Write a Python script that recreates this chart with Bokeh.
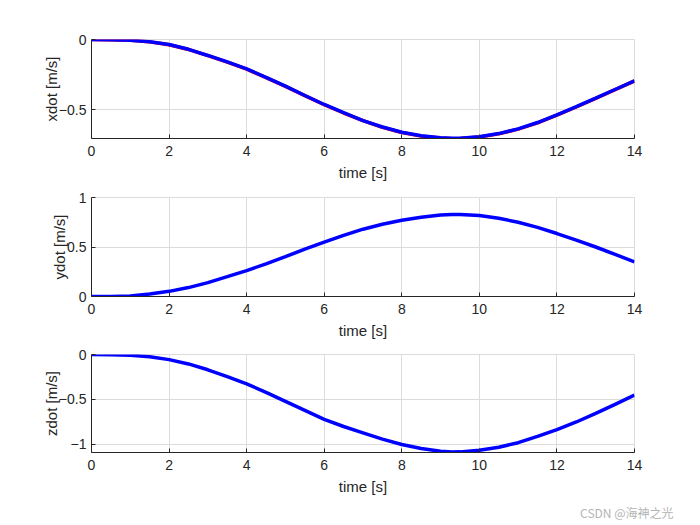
from bokeh.plotting import figure
from bokeh.layouts import column
from bokeh.models import Range1d, Title, FixedTicker
from bokeh.embed import file_html
from bokeh.resources import INLINE

# ---- data ----
t = [0, 0.5, 1, 1.5, 2, 2.5, 3, 3.5, 4, 4.5, 5, 5.5, 6, 6.5, 7, 7.5, 8, 8.5,
     9, 9.3, 9.5, 10, 10.5, 11, 11.5, 12, 12.5, 13, 13.5, 14]

xdot_ref = [0, -0.001, -0.005, -0.017, -0.037, -0.071, -0.115, -0.161, -0.212, -0.272,
            -0.335, -0.401, -0.466, -0.525, -0.580, -0.627, -0.664, -0.690, -0.704,
            -0.708, -0.707, -0.697, -0.674, -0.640, -0.595, -0.540, -0.482, -0.421,
            -0.358, -0.296]
xdot = [0, -0.001, -0.005, -0.016, -0.036, -0.070, -0.114, -0.160, -0.210, -0.270,
        -0.333, -0.400, -0.464, -0.523, -0.579, -0.625, -0.662, -0.688, -0.702,
        -0.706, -0.705, -0.695, -0.672, -0.638, -0.593, -0.538, -0.480, -0.419,
        -0.357, -0.295]
ydot = [0, 0.001, 0.006, 0.025, 0.052, 0.090, 0.140, 0.200, 0.262, 0.330, 0.402,
        0.478, 0.550, 0.618, 0.680, 0.730, 0.770, 0.800, 0.823, 0.829, 0.829, 0.818,
        0.790, 0.750, 0.698, 0.636, 0.570, 0.500, 0.425, 0.350]
zdot = [0, -0.002, -0.008, -0.025, -0.057, -0.105, -0.170, -0.245, -0.326, -0.420,
        -0.520, -0.620, -0.720, -0.800, -0.870, -0.940, -1.000, -1.045, -1.075,
        -1.083, -1.082, -1.065, -1.030, -0.980, -0.910, -0.835, -0.750, -0.655,
        -0.555, -0.450]

x_ticks = [0, 2, 4, 6, 8, 10, 12, 14]
y_ticks = [[-0.5, 0], [0, 0.5, 1], [-1, -0.5, 0]]
y_limits = [(-0.707, 0.0), (0.0, 1.0), (-1.089, 0.0)]
y_labels = ["xdot [m/s]", "ydot [m/s]", "zdot [m/s]"]
x_label = "time [s]"
watermark = "CSDN @海神之光"

FONT = "Liberation Sans"
DARK = "#262626"
GRID = "#dcdcdc"

heights = [183, 158, 184]
tops = [39, 14, 13]
bottoms = [45, 45, 73]

figs = []
for i in range(3):
    p = figure(width=700, height=heights[i], output_backend="svg", toolbar_location=None,
               x_range=Range1d(0, 14), y_range=Range1d(*y_limits[i]),
               min_border_left=91, min_border_right=66,
               min_border_top=tops[i], min_border_bottom=bottoms[i])
    p.outline_line_color = GRID
    p.outline_line_width = 1
    p.background_fill_color = "white"
    p.border_fill_color = "white"
    for ax in (p.xaxis[0], p.yaxis[0]):
        ax.axis_line_color = DARK
        ax.major_tick_line_color = DARK
        ax.major_tick_in = 4
        ax.major_tick_out = 0
        ax.minor_tick_line_color = None
        ax.major_label_text_font = FONT
        ax.major_label_text_font_size = "14px"
        ax.major_label_text_color = DARK
        ax.axis_label_text_font = FONT
        ax.axis_label_text_font_size = "15px"
        ax.axis_label_text_font_style = "normal"
        ax.axis_label_text_color = DARK
    p.xaxis.ticker = FixedTicker(ticks=x_ticks)
    p.yaxis.ticker = FixedTicker(ticks=y_ticks[i])
    p.xaxis.axis_label = x_label
    p.yaxis.axis_label = y_labels[i]
    p.xaxis.major_label_standoff = 7
    p.xaxis.axis_label_standoff = 5
    p.yaxis.major_label_standoff = 5
    p.yaxis.axis_label_standoff = -4
    p.grid.grid_line_color = GRID
    p.grid.grid_line_width = 1
    figs.append(p)

figs[0].line(t, xdot_ref, line_color="red", line_width=3.5)
figs[0].line(t, xdot, line_color="blue", line_width=3.5)
figs[1].line(t, ydot, line_color="blue", line_width=3.5)
figs[2].line(t, zdot, line_color="blue", line_width=3.5)

figs[2].add_layout(Title(text=watermark, align="right", offset=-39, standoff=8,
                         text_font="Noto Sans CJK SC", text_font_size="12px",
                         text_font_style="normal", text_color="#b4b4b4"), "below")

layout = column(*figs, spacing=0)
open("out.html", "w").write(file_html(layout, INLINE))
